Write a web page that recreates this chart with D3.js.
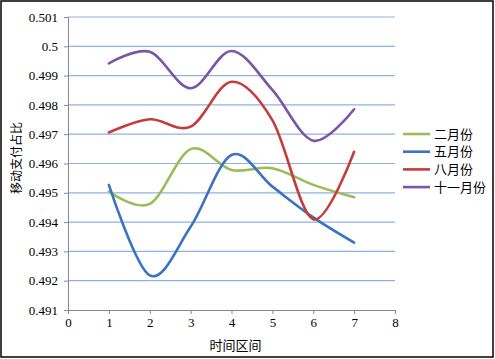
<!DOCTYPE html>
<html>
<head>
<meta charset="utf-8">
<script src="https://cdn.jsdelivr.net/npm/d3@7"></script>
<style>
  body { margin: 0; background: #fff; }
  svg { display: block; }
</style>
</head>
<body>
<div id="chart"></div>
<script>
// time intervals (x) and share of mobile payment per month series
const xValues = [1, 2, 3, 4, 5, 6, 7];
const seriesNames = ["二月份", "五月份", "八月份", "十一月份"];
const febValues = [0.49504, 0.49462, 0.49649, 0.49578, 0.49584, 0.49527, 0.49485];
const mayValues = [0.49527, 0.49218, 0.49384, 0.49629, 0.49521, 0.49416, 0.49330];
const augValues = [0.49706, 0.49751, 0.49726, 0.49879, 0.49748, 0.49410, 0.49640];
const novValues = [0.49942, 0.49981, 0.49857, 0.49984, 0.49851, 0.49678, 0.49785];
const seriesColors = ["#9BBB59", "#3A73C2", "#C43D3A", "#7B55A6"];
const yTicks = [0.491, 0.492, 0.493, 0.494, 0.495, 0.496, 0.497, 0.498, 0.499, 0.5, 0.501];
const xTicks = [0, 1, 2, 3, 4, 5, 6, 7, 8];

const series = seriesNames.map((name, i) => ({
  name: name,
  color: seriesColors[i],
  values: [febValues, mayValues, augValues, novValues][i]
}));

const width = 495, height = 359;
const margin = { top: 17, right: 100, bottom: 49, left: 68 };
const innerHeight = height - margin.top - margin.bottom;

const svg = d3.select("#chart")
  .append("svg")
  .attr("width", width)
  .attr("height", height);

// outer frame
svg.append("rect")
  .attr("x", 1).attr("y", 1)
  .attr("width", width - 3).attr("height", height - 3)
  .attr("fill", "none")
  .attr("stroke", "#000")
  .attr("stroke-width", 1.5);

const g = svg.append("g")
  .attr("transform", `translate(${margin.left},${margin.top})`);

const x = d3.scaleLinear().domain([0, 8]).range([0, 327]);
const y = d3.scaleLinear().domain([0.491, 0.501]).range([innerHeight, 0]);

// horizontal gridlines
g.selectAll("line.grid")
  .data(yTicks.slice(1))
  .enter().append("line")
  .attr("class", "grid")
  .attr("x1", 0).attr("x2", x(8))
  .attr("y1", d => y(d)).attr("y2", d => y(d))
  .attr("stroke", "#8DB3E2")
  .attr("stroke-width", 1.2);

// Y axis
const yAxis = g.append("g")
  .call(d3.axisLeft(y).tickValues(yTicks).tickSize(4).tickPadding(6)
    .tickFormat(d => String(+d.toFixed(3))))
  .attr("font-family", "'Liberation Serif', serif")
  .attr("font-size", 13);
yAxis.select(".domain").attr("stroke", "#888");
yAxis.selectAll(".tick line").attr("stroke", "#888");
yAxis.selectAll("text").attr("fill", "#000");

// X axis
const xAxis = g.append("g")
  .attr("transform", `translate(0,${innerHeight})`)
  .call(d3.axisBottom(x).tickValues(xTicks).tickSize(4).tickPadding(4)
    .tickFormat(d3.format("d")))
  .attr("font-family", "'Liberation Serif', serif")
  .attr("font-size", 13);
xAxis.select(".domain").attr("stroke", "#888");
xAxis.selectAll(".tick line").attr("stroke", "#888");
xAxis.selectAll("text").attr("fill", "#000");

// axis titles
g.append("text")
  .attr("x", x(4) + 4)
  .attr("y", innerHeight + 40)
  .attr("text-anchor", "middle")
  .attr("font-family", "'Noto Sans CJK SC', sans-serif")
  .attr("font-size", 13)
  .text("时间区间");

g.append("text")
  .attr("transform", "rotate(-90)")
  .attr("x", -141)
  .attr("y", -47)
  .attr("text-anchor", "middle")
  .attr("font-family", "'Noto Sans CJK SC', sans-serif")
  .attr("font-size", 12)
  .text("移动支付占比");

// smoothed lines
const line = d3.line()
  .x((d, i) => x(xValues[i]))
  .y(d => y(d))
  .curve(d3.curveCardinal.tension(0));

g.selectAll("path.series")
  .data(series)
  .enter().append("path")
  .attr("class", "series")
  .attr("fill", "none")
  .attr("stroke", d => d.color)
  .attr("stroke-width", 2.6)
  .attr("stroke-linecap", "round")
  .attr("d", d => line(d.values));

// legend
const legend = svg.append("g")
  .attr("transform", "translate(403,134)");

const items = legend.selectAll("g")
  .data(series)
  .enter().append("g")
  .attr("transform", (d, i) => `translate(0,${i * 17.7})`);

items.append("line")
  .attr("x1", 0).attr("x2", 27)
  .attr("stroke", d => d.color)
  .attr("stroke-width", 2.6);

items.append("text")
  .attr("x", 31)
  .attr("dy", "0.35em")
  .attr("font-family", "'Noto Sans CJK SC', sans-serif")
  .attr("font-size", 13)
  .text(d => d.name);
</script>
</body>
</html>
